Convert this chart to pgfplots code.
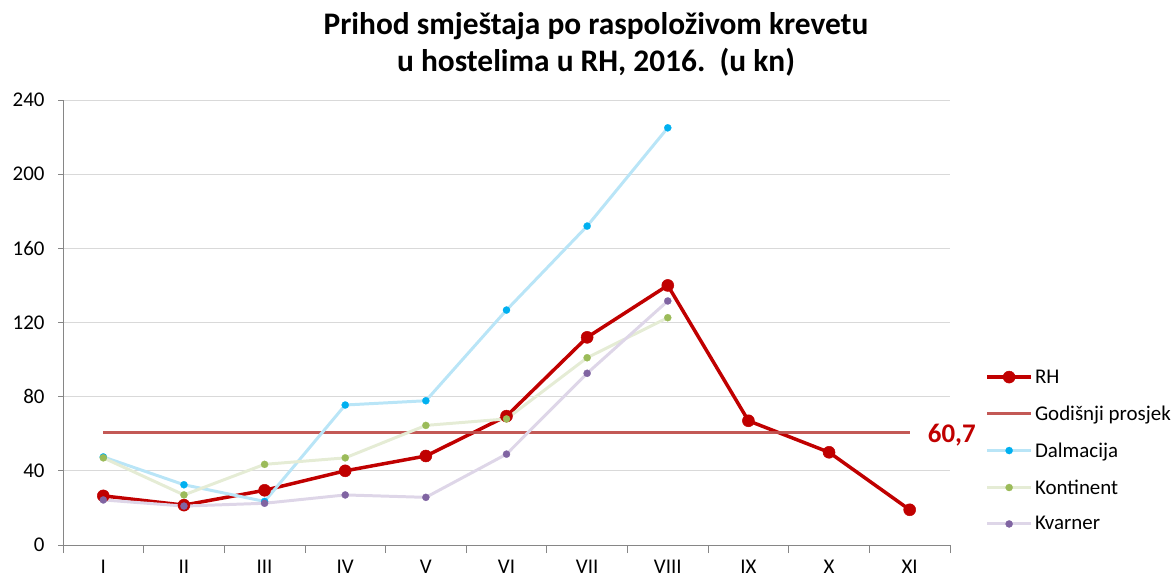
\documentclass[border=0pt]{standalone}
\usepackage{fontspec}
\setmainfont{Carlito}
\usepackage{pgfplots}
\pgfplotsset{compat=1.18}
\definecolor{rh}{HTML}{C00000}
\definecolor{avg}{HTML}{C0504D}
\definecolor{dalL}{HTML}{B9E5F7}
\definecolor{dalM}{HTML}{00B0F0}
\definecolor{konL}{HTML}{E5ECD5}
\definecolor{konM}{HTML}{9BBB59}
\definecolor{kvaL}{HTML}{DED6E8}
\definecolor{kvaM}{HTML}{8064A2}
\definecolor{axgray}{HTML}{868686}
\definecolor{gridgray}{HTML}{D9D9D9}
\begin{document}
\begin{tikzpicture}
\useasboundingbox (-63bp,-35bp) rectangle (1113bp,545bp);
\begin{axis}[
  at={(0,0)}, anchor=south west,
  scale only axis, width=887bp, height=445bp,
  xmin=0.5, xmax=11.5, ymin=0, ymax=240,
  axis lines=left, axis line style={-, draw=axgray, line width=1pt},
  xtick={1,...,11},
  xticklabels={I,II,III,IV,V,VI,VII,VIII,IX,X,XI},
  major x tick style={draw=none},
  minor xtick={0.5,1.5,...,11.5},
  minor x tick style={draw=axgray, line width=0.8pt},
  ytick={0,40,...,240},
  major y tick style={draw=axgray, line width=0.8pt},
  tick align=outside,
  major tick length=5bp, minor tick length=8bp,
  ymajorgrids, grid style={draw=gridgray, line width=0.8pt},
  /pgf/number format/assume math mode=true,
  ticklabel style={font=\fontsize{21}{24}\selectfont, text=black},
  xticklabel style={yshift=-7bp},
  yticklabel style={xshift=-10bp},
  clip=false,
  legend style={at={(1.0395,0.399)}, anchor=north west, draw=none, fill=none,
    font=\fontsize{21}{24}\selectfont, row sep=17bp, inner sep=0pt,
    cells={anchor=west}},
  legend image code/.code={\draw[mark repeat=2,mark phase=2,#1] plot coordinates {(0bp,0bp)(22bp,0bp)(44bp,0bp)};},
]
\addplot[rh, line width=3.5pt, mark=*, mark size=6bp, mark options={fill=rh, draw=rh, line width=0.5pt}]
  coordinates {(1,26.5)(2,21.5)(3,29.5)(4,40)(5,48)(6,69.5)(7,112)(8,140)(9,67)(10,50)(11,19)};
\addlegendentry{RH}
\addplot[avg, line width=3.8pt, no markers, opacity=0.95]
  coordinates {(1,60.7)(11,60.7)};
\addlegendentry{Godišnji prosjek}
\addplot[dalL, line width=3pt, mark=*, mark size=3.6bp, mark options={fill=dalM, draw=dalM, line width=0.2pt}]
  coordinates {(1,47.5)(2,32.5)(3,23.5)(4,75.5)(5,77.8)(6,126.7)(7,172)(8,225)};
\addlegendentry{Dalmacija}
\addplot[konL, line width=3pt, mark=*, mark size=3.6bp, mark options={fill=konM, draw=konM, line width=0.2pt}]
  coordinates {(1,47)(2,27)(3,43.5)(4,47)(5,64.5)(6,68)(7,101)(8,122.6)};
\addlegendentry{Kontinent}
\addplot[kvaL, line width=3pt, mark=*, mark size=3.6bp, mark options={fill=kvaM, draw=kvaM, line width=0.2pt}]
  coordinates {(1,24.3)(2,21)(3,22.5)(4,27)(5,25.7)(6,49)(7,92.6)(8,131.6)};
\addlegendentry{Kvarner}
\node[anchor=west, text=rh, font=\bfseries\fontsize{27}{29}\selectfont, inner sep=0pt] at (axis cs:11,60.7) [xshift=18bp, yshift=-3bp] {60,7};
\end{axis}
\node[align=center, font=\bfseries\fontsize{31.5}{37}\selectfont] at (533bp,501bp) {Prihod smještaja po raspoloživom krevetu\\u hostelima u RH, 2016.\ \ (u kn)};
\end{tikzpicture}
\end{document}
